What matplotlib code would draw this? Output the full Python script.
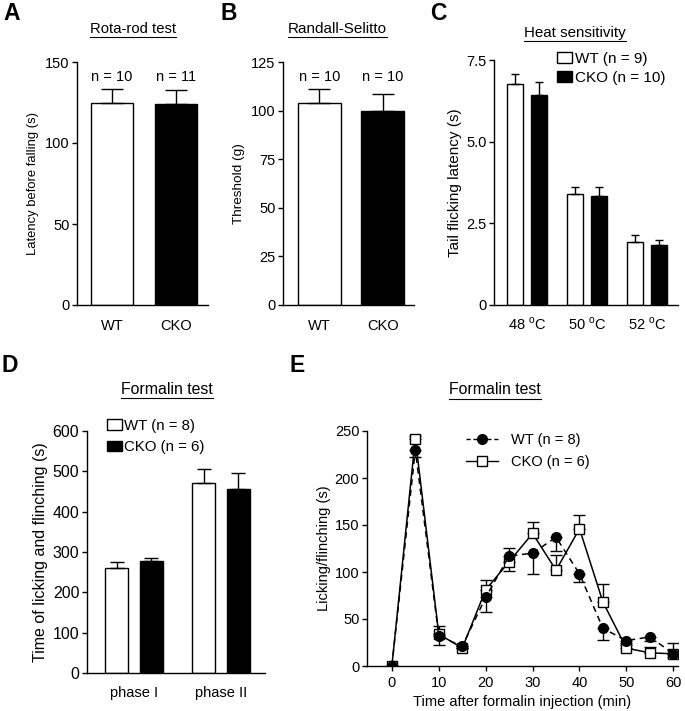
import matplotlib
matplotlib.use("Agg")
import matplotlib.pyplot as plt
from matplotlib.lines import Line2D
from matplotlib.patches import Patch
import numpy as np

plt.rcParams['font.family'] = ['Liberation Sans', 'DejaVu Sans']
plt.rcParams['mathtext.fontset'] = 'custom'
plt.rcParams['mathtext.rm'] = 'Liberation Sans'
plt.rcParams['font.size'] = 10
plt.rcParams['axes.linewidth'] = 1.0

W, H = 685, 711

# ---- data ----
genotypes = ["WT", "CKO"]

rota_mean = [124.7, 124.0]
rota_sem = [8.6, 8.7]
rota_n = ["n = 10", "n = 11"]

randall_mean = [103.9, 100.0]
randall_sem = [7.2, 8.5]
randall_n = ["n = 10", "n = 10"]

heat_labels = ["48 $^\\mathrm{o}$C", "50 $^\\mathrm{o}$C", "52 $^\\mathrm{o}$C"]
heat_wt = [6.76, 3.41, 1.92]
heat_wt_sem = [0.30, 0.21, 0.21]
heat_cko = [6.43, 3.35, 1.83]
heat_cko_sem = [0.40, 0.25, 0.16]

phase_labels = ["phase I", "phase II"]
form_wt = [261, 470]
form_wt_sem = [14, 36]
form_cko = [278, 456]
form_cko_sem = [8, 40]

time_min = [0, 5, 10, 15, 20, 25, 30, 35, 40, 45, 50, 55, 60]
wt_course = [0, 230, 32, 21, 73, 117, 120, 137, 98, 40, 27, 31, 13]
wt_course_sem = [0, 8, 10, 2, 16, 16, 22, 15, 9, 12, 3, 4, 3]
cko_course = [0, 242, 34, 19, 81, 111, 141, 102, 146, 68, 19, 14, 13]
cko_course_sem = [0, 3, 9, 2, 11, 15, 12, 16, 15, 19, 3, 6, 12]

fig = plt.figure(figsize=(W / 100, H / 100), dpi=100)


def axes_px(left, top, right, bottom):
    return fig.add_axes([left / W, 1 - bottom / H, (right - left) / W, (bottom - top) / H])


def style(ax, fs=10.5, xticks=False, xpad=8):
    for s in ("top", "right"):
        ax.spines[s].set_visible(False)
    ax.tick_params(axis="y", direction="out", length=3.5, width=1, labelsize=fs, pad=2)
    if xticks:
        ax.tick_params(axis="x", direction="out", length=3.5, width=1, labelsize=fs, pad=4)
    else:
        ax.tick_params(axis="x", length=0, labelsize=10.5, pad=xpad)


def ftext(x, y, s, **kw):
    return fig.text(x / W, 1 - y / H, s, **kw)


titles = []


def title(x, y, s, fs):
    titles.append(ftext(x, y, s, ha="center", va="center", fontsize=fs))


def letter(x, y, s):
    ftext(x, y, s, ha="center", va="center", fontsize=16.5, fontweight="bold")


# ---- A: rota-rod ----
axA = axes_px(77, 62, 208, 305)
xa = np.arange(2)
axA.bar(xa, rota_mean, width=0.66, color=["white", "black"], edgecolor="black", linewidth=1)
axA.errorbar(xa, rota_mean, yerr=[[0, 0], rota_sem], fmt="none", ecolor="black",
             elinewidth=1, capsize=8, capthick=1)
for xi, lab in zip(xa, rota_n):
    axA.text(xi, 141, lab, ha="center", va="center", fontsize=10.5)
axA.set_xlim(-0.55, 1.51)
axA.set_ylim(0, 150)
axA.set_yticks([0, 50, 100, 150])
axA.set_xticks(xa)
axA.set_xticklabels(genotypes)
axA.set_ylabel("Latency before falling (s)", fontsize=9.4, labelpad=4)
style(axA, xpad=10)
letter(12, 13, "A")
title(133, 29, "Rota-rod test", 10.7)

# ---- B: Randall-Selitto ----
axB = axes_px(283, 62, 414, 305)
axB.bar(xa, randall_mean, width=0.68, color=["white", "black"], edgecolor="black", linewidth=1)
axB.errorbar(xa, randall_mean, yerr=[[0, 0], randall_sem], fmt="none", ecolor="black",
             elinewidth=1, capsize=8, capthick=1)
for xi, lab in zip(xa, randall_n):
    axB.text(xi, 117.5, lab, ha="center", va="center", fontsize=10.5)
axB.set_xlim(-0.575, 1.49)
axB.set_ylim(0, 125)
axB.set_yticks([0, 25, 50, 75, 100, 125])
axB.set_xticks(xa)
axB.set_xticklabels(genotypes)
axB.set_ylabel("Threshold (g)", fontsize=9.7, labelpad=4)
style(axB, xpad=10)
letter(229, 13, "B")
title(337, 29, "Randall-Selitto", 11)

# ---- C: heat sensitivity ----
axC = axes_px(494, 60, 678, 305)
xc = np.arange(3)
off, bw = 0.195, 0.267
axC.bar(xc - off, heat_wt, width=bw, color="white", edgecolor="black", linewidth=1)
axC.bar(xc + off, heat_cko, width=bw, color="black", edgecolor="black", linewidth=1)
axC.errorbar(xc - off, heat_wt, yerr=[np.zeros(3), heat_wt_sem], fmt="none", ecolor="black",
             elinewidth=1, capsize=3, capthick=1)
axC.errorbar(xc + off, heat_cko, yerr=[np.zeros(3), heat_cko_sem], fmt="none", ecolor="black",
             elinewidth=1, capsize=3, capthick=1)
axC.set_xlim(-0.55, 2.52)
axC.set_ylim(0, 7.5)
axC.set_yticks([0, 2.5, 5.0, 7.5])
axC.set_yticklabels(["0", "2.5", "5.0", "7.5"])
axC.set_xticks(xc)
axC.set_xticklabels(heat_labels)
axC.set_ylabel("Tail flicking latency (s)", fontsize=11, labelpad=3)
style(axC, xpad=8)
handles = [Patch(facecolor="white", edgecolor="black", linewidth=1),
           Patch(facecolor="black", edgecolor="black", linewidth=1)]
axC.legend(handles, ["WT (n = 9)", "CKO (n = 10)"], loc="upper left",
           bbox_to_anchor=(557 / W, 1 - 52 / H), bbox_transform=fig.transFigure,
           frameon=False, fontsize=11, handlelength=1.0, handleheight=0.7,
           handletextpad=0.15, labelspacing=0.3, borderpad=0, borderaxespad=0)
letter(438, 13, "C")
title(575, 33, "Heat sensitivity", 10.9)

# ---- D: formalin phases ----
axD = axes_px(87, 431, 265, 673)
xd = np.arange(2)
off, bw = 0.198, 0.26
axD.bar(xd - off, form_wt, width=bw, color="white", edgecolor="black", linewidth=1)
axD.bar(xd + off, form_cko, width=bw, color="black", edgecolor="black", linewidth=1)
axD.errorbar(xd - off, form_wt, yerr=[np.zeros(2), form_wt_sem], fmt="none", ecolor="black",
             elinewidth=1, capsize=5, capthick=1)
axD.errorbar(xd + off, form_cko, yerr=[np.zeros(2), form_cko_sem], fmt="none", ecolor="black",
             elinewidth=1, capsize=5, capthick=1)
axD.set_xlim(-0.54, 1.506)
axD.set_ylim(0, 600)
axD.set_yticks(range(0, 601, 100))
axD.set_xticks(xd)
axD.set_xticklabels(phase_labels)
axD.set_ylabel("Time of licking and flinching (s)", fontsize=11.5, labelpad=3)
style(axD, fs=11.5, xpad=9)
axD.legend(handles, ["WT (n = 8)", "CKO (n = 6)"], loc="upper left",
           bbox_to_anchor=(107 / W, 1 - 419 / H), bbox_transform=fig.transFigure,
           frameon=False, fontsize=10.8, handlelength=1.0, handleheight=0.7,
           handletextpad=0.15, labelspacing=0.5, borderpad=0, borderaxespad=0)
letter(10, 365, "D")
title(167, 389, "Formalin test", 11.4)

# ---- E: formalin time course ----
axE = axes_px(367, 431, 678, 666)
zeros = np.zeros(len(time_min))
axE.errorbar(time_min, cko_course, yerr=[zeros, cko_course_sem], fmt="none", ecolor="black",
             elinewidth=1, capsize=4, capthick=1, zorder=2)
axE.errorbar(time_min, wt_course, yerr=[wt_course_sem, zeros], fmt="none", ecolor="black",
             elinewidth=1, capsize=4, capthick=1, zorder=2)
axE.plot(time_min, cko_course, "-", color="black", lw=1.1, marker="s", ms=7,
         mfc="white", mec="black", mew=1, zorder=3, label="CKO (n = 6)")
axE.plot(time_min, wt_course, "--", color="black", lw=1.1, marker="o", ms=7,
         mfc="black", mec="black", zorder=4, label="WT (n = 8)", dashes=(4, 3))
axE.set_xlim(-5.3, 61)
axE.set_ylim(0, 250)
axE.set_yticks(range(0, 251, 50))
axE.set_xticks(range(0, 61, 10))
axE.set_xlabel("Time after formalin injection (min)", fontsize=10.5, labelpad=3)
axE.set_ylabel("Licking/flinching (s)", fontsize=10.5, labelpad=3)
style(axE, xticks=True)
hE = [Line2D([], [], color="black", ls="--", dashes=(3, 2), lw=1, marker="o", ms=7, mfc="black"),
      Line2D([], [], color="black", ls="-", lw=1, marker="s", ms=7, mfc="white")]
axE.legend(hE, ["WT (n = 8)", "CKO (n = 6)"], loc="upper left",
           bbox_to_anchor=(466 / W, 1 - 433 / H), bbox_transform=fig.transFigure,
           frameon=False, fontsize=10.5, handlelength=2.2, handletextpad=0.9,
           labelspacing=0.55, borderpad=0, borderaxespad=0)
letter(297, 365, "E")
title(495, 390, "Formalin test", 11.4)

# underline the panel titles
fig.canvas.draw()
r = fig.canvas.get_renderer()
for t in titles:
    bb = t.get_window_extent(r)
    yl = (bb.y0 - 1) / H
    fig.add_artist(Line2D([bb.x0 / W, bb.x1 / W], [yl, yl], color="black", lw=0.8))

fig.savefig("out.png", dpi=100)
